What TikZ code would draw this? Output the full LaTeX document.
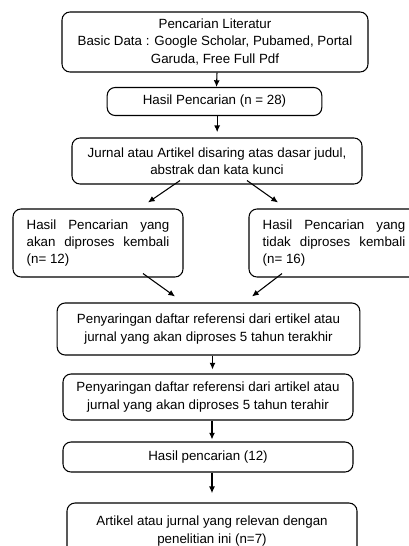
\documentclass[tikz,border=0pt]{standalone}
\usepackage{fontspec}
\setmainfont{Liberation Sans}
\usetikzlibrary{arrows.meta}
\usetikzlibrary{positioning}

\begin{document}
\begin{tikzpicture}[x=0.75pt,y=-0.75pt]
	\tikzset{box/.style = {shape=rectangle,draw,rounded corners=6pt,line width=0.8pt,
			inner sep=0pt,font=\fontsize{10}{13}\selectfont,align=center}}
	\tikzset{sidebox/.style = {box,align=justify,text width=107pt}}
	\tikzset{arrow/.style = {-{Latex[length=5pt,width=4.5pt]},line width=0.8pt}}
	
	\useasboundingbox (0,0) rectangle (409,546);
	
	% boxes
	\node[box,minimum width=229.5pt,minimum height=45pt] (lit) at (215,42)
		{Pencarian Literatur\\Basic Data : Google Scholar, Pubamed, Portal\\Garuda, Free Full Pdf};
	\node[box,minimum width=161pt,minimum height=21pt] (hasil) at (214.5,101.5)
		{Hasil Pencarian (n = 28)};
	\node[box,minimum width=217.5pt,minimum height=34.5pt] (saring) at (217,161)
		{Jurnal atau Artikel disaring atas dasar judul,\\abstrak dan kata kunci};
	\node[sidebox,minimum width=127.5pt,minimum height=51pt] (proses) at (98,243)
		{Hasil Pencarian yang\linebreak akan diproses kembali\linebreak (n= 12)};
	\node[sidebox,minimum width=127.5pt,minimum height=51pt] (tolak) at (334,243)
		{Hasil Pencarian yang\linebreak tidak diproses kembali\linebreak (n= 16)};
	\node[box,minimum width=227pt,minimum height=39pt] (ref1) at (208.5,329)
		{Penyaringan daftar referensi dari ertikel atau\\jurnal yang akan diproses 5 tahun terakhir};
	\node[box,minimum width=217.5pt,minimum height=34.5pt] (ref2) at (208,397)
		{Penyaringan daftar referensi dari artikel atau\\jurnal yang akan diproses 5 tahun terahir};
	\node[box,minimum width=217.5pt,minimum height=22.5pt] (hasil2) at (208,457)
		{Hasil pencarian (12)};
	\node[box,minimum width=217.5pt,minimum height=42pt] (akhir) at (212,531)
		{Artikel atau jurnal yang relevan dengan\\penelitian ini (n=7)};
	
	% arrows
	\draw[arrow] ([xshift=1.5pt]lit.south) -- ([xshift=1.5pt]hasil.north);
	\draw[arrow,shorten >=4pt] ([xshift=2pt]hasil.south) -- ([xshift=2pt]hasil.south |- saring.north);
	\draw[arrow] ([shift={(-37,-4)}]saring.south) -- ([shift={(50,-6)}]proses.north);
	\draw[arrow] ([shift={(30,-4)}]saring.south) -- ([shift={(-56,-6)}]tolak.north);
	\draw[arrow] ([shift={(45,-4)}]proses.south) -- ([shift={(-33.5,-6)}]ref1.north);
	\draw[arrow] ([shift={(-52,-4)}]tolak.south) -- ([shift={(43.5,-6)}]ref1.north);
	\draw[arrow,shorten >=3pt] ([xshift=3pt]ref1.south) -- ([xshift=3pt]ref1.south |- ref2.north);
	\draw[arrow,shorten >=1.5pt] ([xshift=3pt]ref2.south) -- ([xshift=3pt]ref2.south |- hasil2.north);
	\draw[arrow,shorten >=7pt] ([xshift=3pt]hasil2.south) -- ([xshift=3pt]hasil2.south |- akhir.north);
	
\end{tikzpicture}
\end{document}
